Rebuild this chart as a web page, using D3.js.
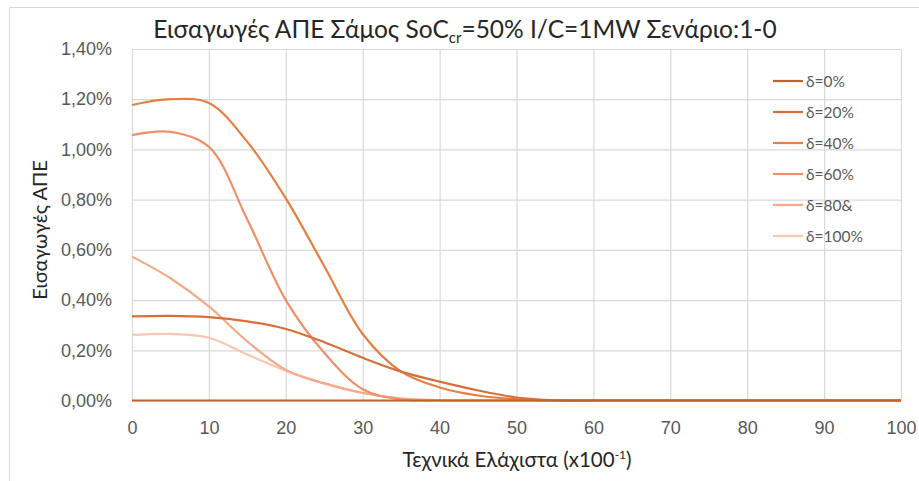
<!DOCTYPE html>
<html>
<head>
<meta charset="utf-8">
<script src="https://cdn.jsdelivr.net/npm/d3@7"></script>
<style>
  html, body { margin: 0; padding: 0; background: #fff; }
  svg { display: block; font-family: Lato, "Open Sans", sans-serif; }
</style>
</head>
<body>
<svg id="chart" width="919" height="481"></svg>
<script>
// Technical minimum (x100^-1) sample positions
const xValues = [0, 5, 10, 15, 20, 25, 30, 35, 40, 45, 50, 55, 60, 65, 70, 75, 80, 85, 90, 95, 100];

// Renewable imports (%) per δ scenario
const d0   = [0, 0, 0, 0, 0, 0, 0, 0, 0, 0, 0, 0, 0, 0, 0, 0, 0, 0, 0, 0, 0];
const d20  = [0.335, 0.337, 0.332, 0.315, 0.285, 0.232, 0.17, 0.115, 0.075, 0.04, 0.012, 0.001, 0, 0, 0, 0, 0, 0, 0, 0, 0];
const d40  = [1.177, 1.2, 1.185, 1.03, 0.805, 0.535, 0.265, 0.115, 0.052, 0.02, 0.005, 0, 0, 0, 0, 0, 0, 0, 0, 0, 0];
const d60  = [1.057, 1.07, 1.01, 0.72, 0.4, 0.19, 0.045, 0.004, 0, 0, 0, 0, 0, 0, 0, 0, 0, 0, 0, 0, 0];
const d80  = [0.573, 0.487, 0.375, 0.235, 0.122, 0.068, 0.03, 0.008, 0.001, 0, 0, 0, 0, 0, 0, 0, 0, 0, 0, 0, 0];
const d100 = [0.261, 0.265, 0.25, 0.183, 0.118, 0.068, 0.03, 0.008, 0.001, 0, 0, 0, 0, 0, 0, 0, 0, 0, 0, 0, 0];

const seriesNames  = ["δ=0%", "δ=20%", "δ=40%", "δ=60%", "δ=80&", "δ=100%"];
const seriesValues = [d0, d20, d40, d60, d80, d100];
const seriesColors = ["#c0622c", "#d5703a", "#e57f42", "#ef9168", "#f4aa89", "#f8c7b2"];

const xTicks = [0, 10, 20, 30, 40, 50, 60, 70, 80, 90, 100];
const yTicks = [0, 0.2, 0.4, 0.6, 0.8, 1.0, 1.2, 1.4];

const svg = d3.select("#chart");
const W = 919, H = 481;
const plot = { left: 132, right: 901, top: 49, bottom: 400.5 };

const x = d3.scaleLinear().domain([0, 100]).range([plot.left, plot.right]);
const y = d3.scaleLinear().domain([0, 1.4]).range([plot.bottom, plot.top]);

// outer chart frame
svg.append("path")
  .attr("d", `M9.5,${H} V7.5 H${W}`)
  .attr("fill", "none")
  .attr("stroke", "#d9d9d9")
  .attr("stroke-width", 1);

const fmtPct = v => d3.format(".2f")(v).replace(".", ",") + "%";

// horizontal gridlines + y labels
const yAxis = svg.append("g")
  .attr("transform", `translate(${plot.left},0)`)
  .call(d3.axisLeft(y).tickValues(yTicks).tickFormat(fmtPct)
        .tickSize(-(plot.right - plot.left)).tickPadding(20));
yAxis.select(".domain").remove();
yAxis.selectAll(".tick line").attr("stroke", "#d9d9d9").attr("stroke-width", 1.2);
yAxis.selectAll(".tick text").attr("fill", "#595959").style("font-size", "18px");

// vertical gridlines + x labels
const xAxis = svg.append("g")
  .attr("transform", `translate(0,${plot.bottom})`)
  .call(d3.axisBottom(x).tickValues(xTicks).tickFormat(d3.format("d"))
        .tickSize(-(plot.bottom - plot.top)).tickPadding(21));
xAxis.select(".domain").remove();
xAxis.selectAll(".tick line").attr("stroke", "#d9d9d9").attr("stroke-width", 1.2);
xAxis.selectAll(".tick text").attr("fill", "#595959").style("font-size", "18px");

// data lines
const line = d3.line()
  .x((d, i) => x(xValues[i]))
  .y(d => y(d))
  .curve(d3.curveCatmullRom.alpha(0.5));

const order = [5, 4, 3, 2, 1, 0];
order.forEach(k => {
  svg.append("path")
    .datum(seriesValues[k])
    .attr("d", line)
    .attr("fill", "none")
    .attr("stroke", seriesColors[k])
    .attr("stroke-width", 2.2)
    .attr("stroke-linejoin", "round");
});

// legend
const legend = svg.append("g").attr("transform", "translate(773,81)");
seriesNames.forEach((name, i) => {
  const g = legend.append("g").attr("transform", `translate(0,${i * 31})`);
  g.append("line").attr("x1", 0).attr("x2", 30).attr("y1", 0).attr("y2", 0)
    .attr("stroke", seriesColors[i]).attr("stroke-width", 2.2);
  g.append("text").attr("x", 33).attr("y", 5.5)
    .attr("fill", "#595959").style("font-size", "15.5px").text(name);
});

// title
const title = svg.append("text")
  .attr("x", 465).attr("y", 38)
  .attr("text-anchor", "middle")
  .attr("fill", "#262626")
  .style("font-size", "24.5px");
title.append("tspan").text("Εισαγωγές ΑΠΕ Σάμος SoC");
title.append("tspan").attr("dy", 5).style("font-size", "15px").text("cr");
title.append("tspan").attr("dy", -5).text("=50% I/C=1MW Σενάριο:1-0");

// x axis title
const xt = svg.append("text")
  .attr("x", 517).attr("y", 467)
  .attr("text-anchor", "middle")
  .attr("fill", "#262626")
  .style("font-size", "20.5px");
xt.append("tspan").text("Τεχνικά Ελάχιστα (x100");
xt.append("tspan").attr("dy", -8).style("font-size", "12px").text("-1");
xt.append("tspan").attr("dy", 8).text(")");

// y axis title
svg.append("text")
  .attr("transform", `translate(47,230) rotate(-90)`)
  .attr("text-anchor", "middle")
  .attr("fill", "#262626")
  .style("font-size", "20px")
  .text("Εισαγωγές ΑΠΕ");
</script>
</body>
</html>
